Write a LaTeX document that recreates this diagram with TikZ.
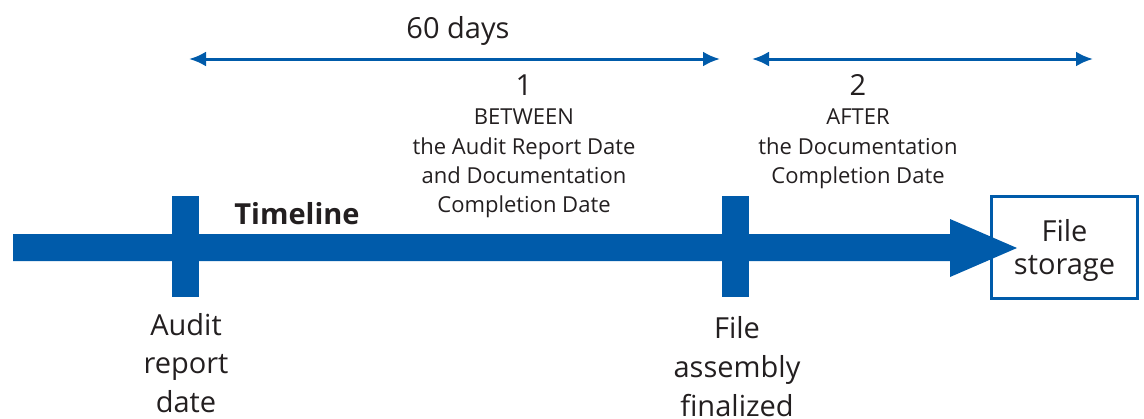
\documentclass[tikz,border=0pt]{standalone}
\usepackage{fontspec}
\setmainfont{Open Sans}
\usetikzlibrary{arrows.meta}
\definecolor{tblue}{RGB}{0,91,170}
\definecolor{ttext}{RGB}{35,31,32}
\tikzset{
  tick/.style={fill=tblue, draw=none},
  span/.style={draw=tblue, line width=3pt, {Latex[length=17pt,width=15pt]}-{Latex[length=17pt,width=15pt]}},
  small/.style={text=ttext, align=center, font=\fontsize{22}{29.3}\selectfont, inner sep=0pt},
  big/.style={text=ttext, align=center, font=\fontsize{29}{38.5}\selectfont, inner sep=0pt},
}
\begin{document}
\begin{tikzpicture}[x=1pt,y=-1pt]
\useasboundingbox (0,0) rectangle (1144,418);
% main bar with arrowhead
\fill[tblue] (13,234) -- (950,234) -- (950,219) -- (1017,248) -- (950,277) -- (950,261) -- (13,261) -- cycle;
% ticks
\path[tick] (172,196) rectangle (199,297);
\path[tick] (722,196) rectangle (749,297);
% storage box
\node[draw=tblue, line width=3pt, minimum width=146pt, minimum height=102pt, inner sep=0pt] (storage) at (1064.5,247.5) {};
\node[big, font=\fontsize{29}{33}\selectfont] (storagetext) at (1064.5,250.5) {File\\storage};
% spans
\coordinate (a1) at (189,59);
\coordinate (a2) at (720,59);
\coordinate (b1) at (752,59);
\coordinate (b2) at (1093,59);
\draw[span] (a1) -- (a2);
\draw[span] (b1) -- (b2);
% labels
\node[big] (days) at (458,31) {60 days};
\node[big] (one) at (524,85) {1};
\node[big] (two) at (858,85) {2};
\node[small, anchor=north] (between) at (524,109) {BETWEEN\\the Audit Report Date\\and Documentation\\Completion Date};
\node[small, anchor=north] (after) at (858,109) {AFTER\\the Documentation\\Completion Date};
\node[text=ttext, inner sep=0pt, font=\fontsize{29}{34}\selectfont\bfseries] (timeline) at (297,214) {Timeline};
\node[big, anchor=north] (audit) at (186,313) {Audit\\report\\date};
\node[big, anchor=north, font=\fontsize{29}{39}\selectfont] (file) at (737,316) {File\\assembly\\finalized};
\end{tikzpicture}
\end{document}
